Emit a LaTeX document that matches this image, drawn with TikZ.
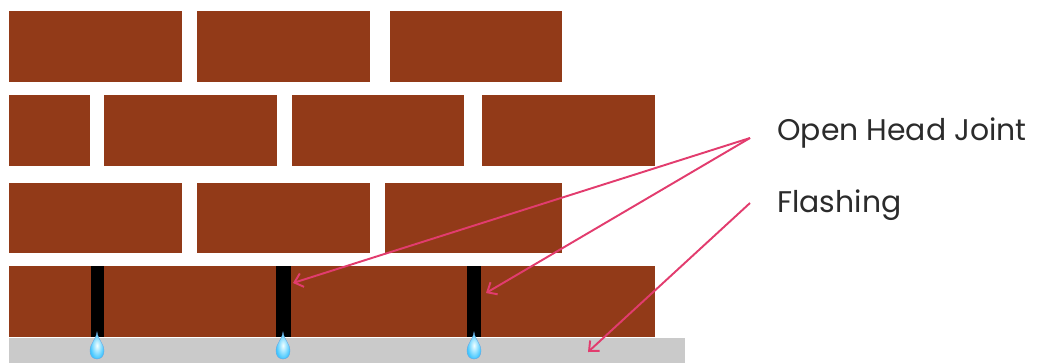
\documentclass[tikz,border=0pt]{standalone}
\usepackage{fontspec}
\setmainfont{Poppins}
\usetikzlibrary{arrows.meta}

\definecolor{brickred}{HTML}{923A18}
\definecolor{flashgray}{HTML}{CACACA}
\definecolor{pointerred}{HTML}{E23C6E}
\definecolor{labelgray}{HTML}{2B2B2B}

\begin{document}
\begin{tikzpicture}[x=0.02cm,y=-0.02cm]
    \tikzset{
      brick/.style={fill=brickred},
      joint/.style={fill=black},
      flashing/.style={fill=flashgray},
      droplet/.style={inner color=cyan!5,outer color=cyan!70!blue!75,draw=cyan!60!blue!60,line width=0.2pt},
      callout/.style={inner sep=0,text=labelgray,font=\fontsize{17}{20}\selectfont},
      pointer/.style={->,>={Straight Barb[length=4.5pt,width=8pt]},draw=pointerred,line width=1.1pt}};
    \useasboundingbox (0,0) rectangle (1037,363);
    % courses of brick, top to bottom
    \foreach \xa/\xb in {9/182,197/370,390/562}
      \fill[brick] (\xa,11) rectangle (\xb,82);
    \foreach \xa/\xb in {9/90,104/277,292/464,482/655}
      \fill[brick] (\xa,95) rectangle (\xb,166);
    \foreach \xa/\xb in {9/182,197/370,385/562}
      \fill[brick] (\xa,183) rectangle (\xb,253);
    \fill[brick] (9,266) rectangle (655,337);
    \fill[flashing] (9,338) rectangle (685,363);
    % open head joints with weep drops
    \foreach \xa/\xb in {91/104,276/291,467/481}
      \fill[joint] (\xa,266) rectangle (\xb,337);
    \foreach \jx in {97,283,474}
      \shade[droplet] (\jx,332) .. controls (\jx+1,340) and (\jx+7,343) .. (\jx+7,351)
        .. controls (\jx+7,356) and (\jx+4,359) .. (\jx,359)
        .. controls (\jx-4,359) and (\jx-7,356) .. (\jx-7,351)
        .. controls (\jx-7,343) and (\jx-1,340) .. cycle;
    \coordinate (J2) at (293,283);
    \coordinate (J3) at (486,293);
    \coordinate (F) at (588,352);
    % labels
    \node[callout,anchor=base west] (OHJ) at (777,140) {Open Head Joint};
    \node[callout,anchor=base west] (FL) at (777,212) {Flashing};
    \draw[pointer] ([xshift=-0.54cm,yshift=0.04cm]OHJ.base west) -- (J2);
    \draw[pointer] ([xshift=-0.54cm,yshift=0.04cm]OHJ.base west) -- (J3);
    \draw[pointer] ([xshift=-0.54cm,yshift=0.18cm]FL.base west) -- (F);
  \end{tikzpicture}
\end{document}
